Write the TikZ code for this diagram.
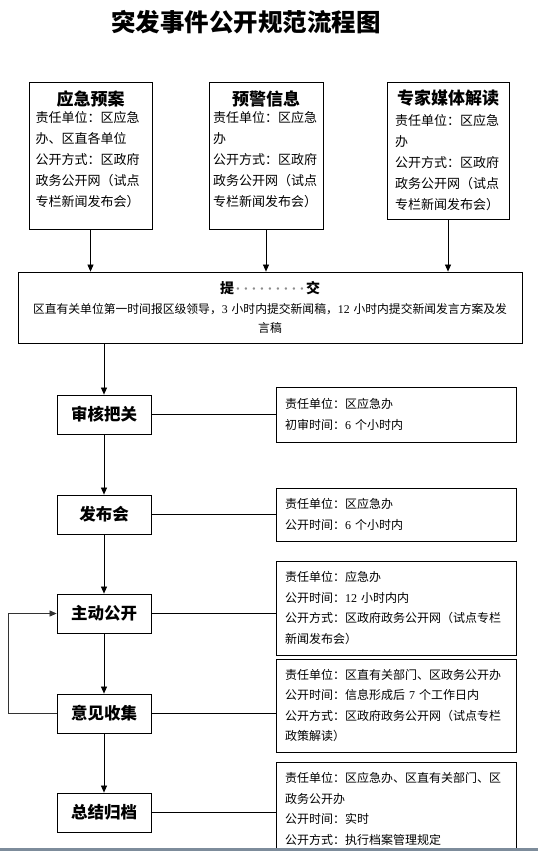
\documentclass[tikz,border=0pt]{standalone}
\usepackage{fontspec}
\setmainfont{Noto Sans CJK SC}
\newfontfamily\numfont{Liberation Serif}
\newcommand{\nm}[1]{{\numfont #1}}
\newcommand{\hd}[1]{\makebox[\linewidth]{\fontsize{17}{21}\selectfont\bfseries #1}}
\newcommand{\pd}{\makebox[8pt]{·}}
\usetikzlibrary{arrows.meta}
\definecolor{bandcol}{RGB}{125,140,155}
\tikzset{
  title/.style={font=\fontsize{24.5}{28}\selectfont\bfseries,inner sep=0pt},
  box-src/.style={draw,rectangle,inner sep=0pt,align=left,line width=0.8pt,font=\fontsize{13}{21}\selectfont},
  box-main/.style={draw,rectangle,minimum width=504pt,minimum height=71pt,text width=492pt,inner sep=0pt,align=center,line width=0.8pt,font=\fontsize{11.8}{19.5}\selectfont},
  box-step/.style={draw,rectangle,minimum width=94pt,minimum height=39pt,inner sep=0pt,line width=0.8pt,font=\fontsize{16.5}{20}\selectfont\bfseries},
  box-info/.style={draw,rectangle,minimum width=240pt,text width=222pt,inner sep=0pt,align=left,line width=0.8pt,font=\fontsize{12}{20.5}\selectfont},
  arr/.style={-{Triangle[length=7pt,width=6pt]},line width=0.7pt},
  link/.style={line width=0.7pt},
  fback/.style={-{Triangle[length=7pt,width=6pt]},line width=0.7pt,black!80},
}

\begin{document}
\begin{tikzpicture}[x=1pt,y=-1pt]
  \useasboundingbox (0,0) rectangle (538,851);
  \clip (0,0) rectangle (538,851);

  \node[title] (ttl) at (246,22) {突发事件公开规范流程图};

  % SOURCES
  \node[box-src,minimum width=123pt,minimum height=147pt,text width=110pt] (yjya) at (90.5,155.5)
    {\hd{应急预案}\\[-4pt]责任单位：区应急\\办、区直各单位\\公开方式：区政府\\政务公开网（试点\\专栏新闻发布会）\\[-14pt]\strut};
  \node[box-src,minimum width=114pt,minimum height=147pt,text width=106pt] (yjxx) at (266,155.5)
    {\hd{预警信息}\\[-4pt]责任单位：区应急\\办\\公开方式：区政府\\政务公开网（试点\\专栏新闻发布会）\\[-14pt]\strut};
  \node[box-src,minimum width=122pt,minimum height=137pt,text width=106pt] (zjmt) at (448,150.5)
    {\hd{专家媒体解读}\\责任单位：区应急\\办\\公开方式：区政府\\政务公开网（试点\\专栏新闻发布会）};

  % SUBMIT
  \node[box-main] (tj) at (270,307.5)
    {{\fontsize{14}{19}\selectfont\bfseries 提}{\color{black!45}\pd\pd\pd\pd\pd\pd\pd\pd\pd}{\fontsize{14}{19}\selectfont\bfseries 交}\\
     区直有关单位第一时间报区级领导，\nm{3} 小时内提交新闻稿，\nm{12} 小时内提交新闻发言方案及发\\言稿};

  \draw[arr] (yjya.south) -- (yjya.south |- tj.north);
  \draw[arr] (yjxx.south) -- (yjxx.south |- tj.north);
  \draw[arr] (zjmt.south) -- (zjmt.south |- tj.north);

  % STEPS
  \node[box-step] (shbg) at (104,414.5) {审核把关};
  \node[box-step] (fbh)  at (104,514.5) {发布会};
  \node[box-step] (zdgk) at (104,613.5) {主动公开};
  \node[box-step] (yjsj) at (104,713.5) {意见收集};
  \node[box-step] (zjgd) at (104,812.5) {总结归档};

  \draw[arr] (tj.south -| shbg.north) -- (shbg.north);
  \draw[arr] (shbg.south) -- (fbh.north);
  \draw[arr] (fbh.south)  -- (zdgk.north);
  \draw[arr] (zdgk.south) -- (yjsj.north);
  \draw[arr] (yjsj.south) -- (zjgd.north);

  % feedback loop
  \coordinate (fb) at (8,660);
  \draw[fback] (yjsj.west) -- (yjsj.west -| fb) |- (zdgk.west);

  % INFO
  \node[box-info,minimum height=55pt] (i-shbg) at (396,414.5)
    {责任单位：区应急办\\初审时间：\nm{6} 个小时内};
  \node[box-info,minimum height=53pt] (i-fbh) at (396,514.5)
    {责任单位：区应急办\\公开时间：\nm{6} 个小时内};
  \node[box-info,minimum height=94pt] (i-zdgk) at (396,608)
    {责任单位：应急办\\公开时间：\nm{12} 小时内内\\公开方式：区政府政务公开网（试点专栏\\新闻发布会）};
  \node[box-info,minimum height=93pt] (i-yjsj) at (396,705.5)
    {责任单位：区直有关部门、区政务公开办\\公开时间：信息形成后 \nm{7} 个工作日内\\公开方式：区政府政务公开网（试点专栏\\政策解读）};
  \node[box-info,minimum height=94pt] (i-zjgd) at (396,809)
    {责任单位：区应急办、区直有关部门、区\\政务公开办\\公开时间：实时\\公开方式：执行档案管理规定};

  \draw[link] (shbg.east) -- (shbg.east -| i-shbg.west);
  \draw[link] (fbh.east)  -- (fbh.east -| i-fbh.west);
  \draw[link] (zdgk.east) -- (zdgk.east -| i-zdgk.west);
  \draw[link] (yjsj.east) -- (yjsj.east -| i-yjsj.west);
  \draw[link] (zjgd.east) -- (zjgd.east -| i-zjgd.west);

  \fill[bandcol] (0,848) rectangle (538,851);
\end{tikzpicture}
\end{document}
